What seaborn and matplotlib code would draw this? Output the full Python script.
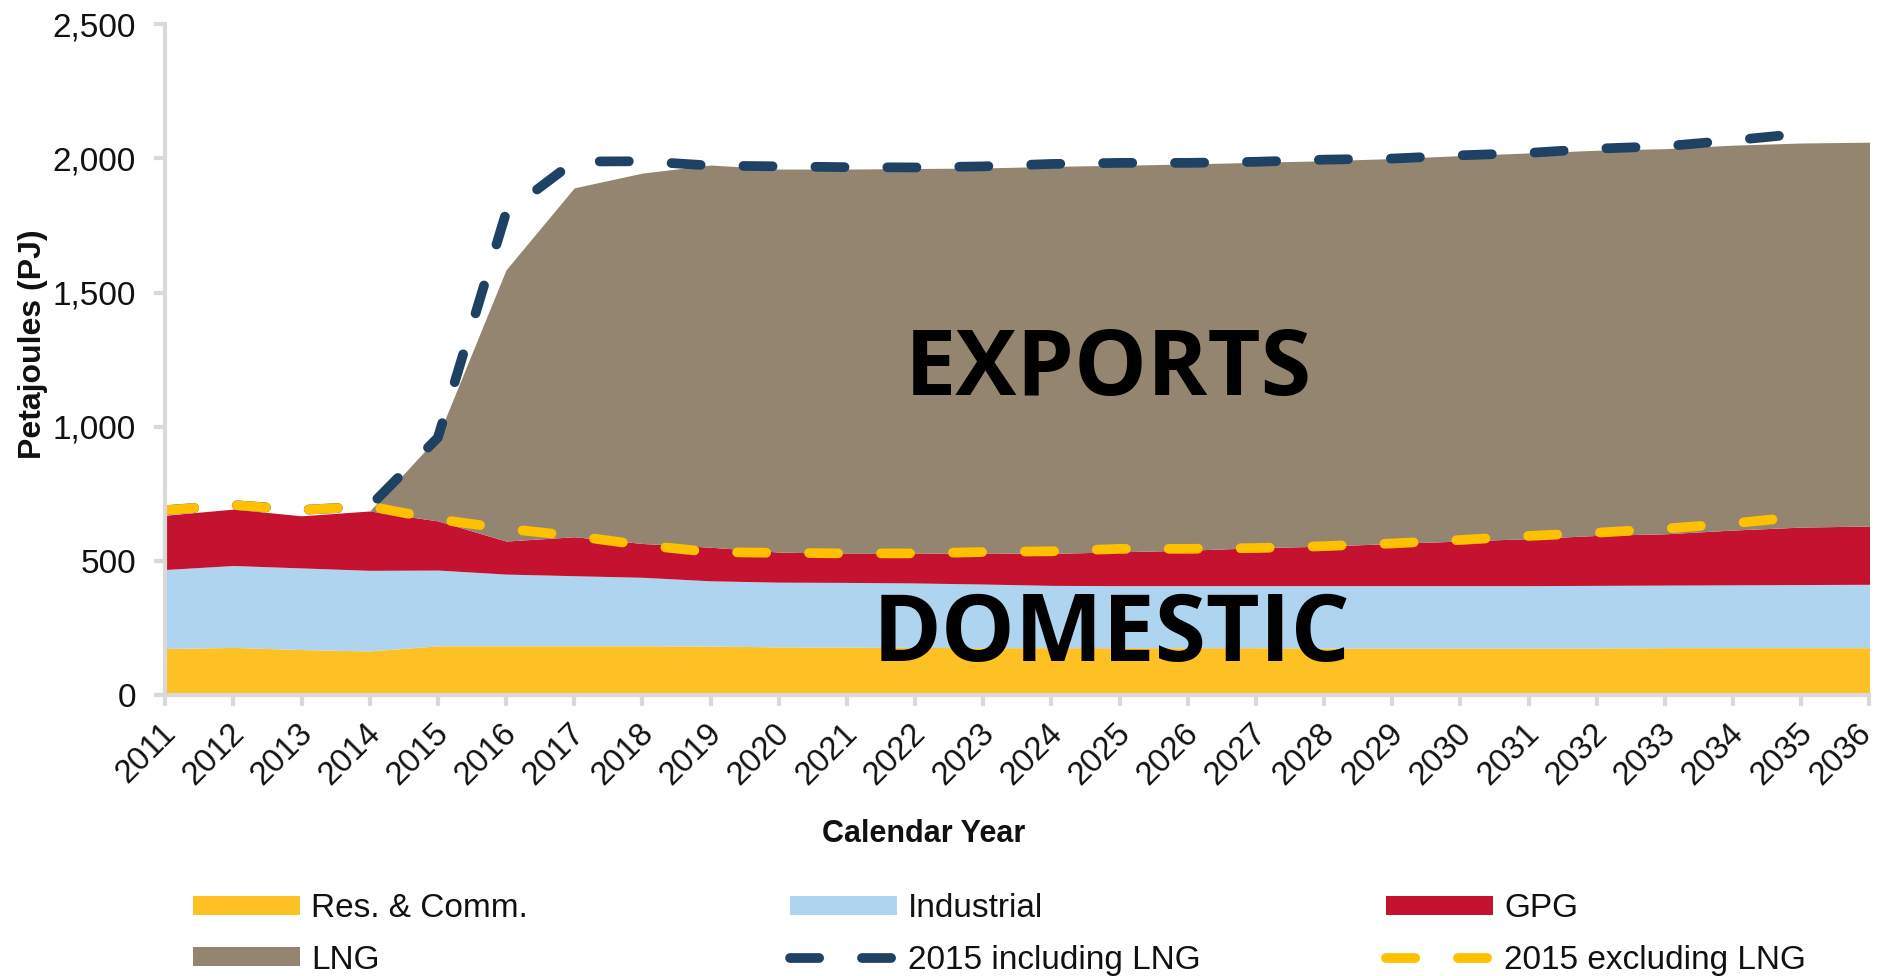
import numpy as np
import pandas as pd
import matplotlib
matplotlib.use("Agg")
import matplotlib.pyplot as plt
import matplotlib.transforms as mtransforms
import seaborn as sns
from matplotlib.patches import Patch
from matplotlib.lines import Line2D

# ---------------- data ----------------
years = list(range(2011, 2037))
res_comm = [175, 179, 171, 166, 185, 185, 185, 185, 184, 181, 180, 179, 178,
            178, 178, 178, 178, 177, 177, 177, 177, 177, 178, 178, 178, 178]
industrial = [294, 305, 304, 300, 282, 267, 261, 255, 243, 241, 241, 240, 237,
              232, 231, 231, 231, 232, 232, 232, 232, 233, 233, 234, 235, 236]
gpg = [202, 210, 194, 221, 183, 123, 145, 126, 125, 112, 108, 110, 116,
       119, 126, 132, 141, 147, 157, 166, 175, 186, 191, 204, 214, 217]
lng = [0, 0, 0, 0, 313, 1010, 1299, 1379, 1423, 1426, 1431, 1433, 1433,
       1441, 1439, 1438, 1435, 1435, 1433, 1435, 1436, 1434, 1434, 1433, 1430, 1429]
incl_lng_2015 = [690, 709, 691, 704, 960, 1797, 1988, 1989, 1973, 1970, 1967, 1966, 1970,
                 1979, 1983, 1983, 1987, 1995, 1999, 2011, 2020, 2036, 2045, 2067, 2092, np.nan]
excl_lng_2015 = [690, 709, 691, 704, 656, 621, 594, 560, 534, 531, 529, 529, 534,
                 537, 546, 546, 549, 556, 566, 579, 594, 606, 621, 641, 666, np.nan]
y_ticks = [0, 500, 1000, 1500, 2000, 2500]
area_labels = ["Res. & Comm.", "Industrial", "GPG", "LNG"]
line_labels = ["2015 including LNG", "2015 excluding LNG"]

# ---------------- style ----------------
sns.set_theme(style="white")
plt.rcParams["font.family"] = ["Liberation Sans", "DejaVu Sans"]

c_res = "#FEC124"
c_ind = "#AED4F0"
c_gpg = "#C41230"
c_lng = "#948570"
c_navy = "#1E4164"
c_gold = "#FFC000"
c_axis = "#D9D9D9"

fig = plt.figure(figsize=(18.77, 9.76), dpi=100)
ax = fig.add_axes([0.088, 0.2874, 0.908, 0.688])

ax.stackplot(years, res_comm, industrial, gpg, lng,
             colors=[c_res, c_ind, c_gpg, c_lng], linewidth=0, zorder=1)

df = pd.DataFrame({"year": years, "incl": incl_lng_2015, "excl": excl_lng_2015})
lw = 7
dash = (3.0, 4.4)
sns.lineplot(data=df, x="year", y="incl", ax=ax, color=c_navy, linewidth=lw,
             zorder=3, legend=False)
ax.lines[-1].set_dashes(dash)
ax.lines[-1].set_dash_capstyle("round")
sns.lineplot(data=df, x="year", y="excl", ax=ax, color=c_gold, linewidth=lw,
             zorder=4, legend=False)
ax.lines[-1].set_dashes(dash)
ax.lines[-1].set_dash_capstyle("round")

ax.set_xlim(2011, 2036)
ax.set_ylim(0, 2500)

for s in ["top", "right"]:
    ax.spines[s].set_visible(False)
for s in ["left", "bottom"]:
    ax.spines[s].set_color(c_axis)
    ax.spines[s].set_linewidth(3)
    ax.spines[s].set_zorder(5)
ax.tick_params(axis="both", which="major", length=8, width=3, color=c_axis,
               direction="out", left=True, bottom=True)
ax.tick_params(axis="x", pad=8)
ax.tick_params(axis="y", pad=13)
ax.grid(False)

ax.set_xticks(years)
ax.set_xticklabels([str(y) for y in years], rotation=45, ha="right",
                   rotation_mode="anchor", fontsize=23.5, color="#111111")
ax.set_yticks(y_ticks)
ax.set_yticklabels([f"{v:,}" for v in y_ticks], fontsize=24, color="#111111")

# nudge the year labels slightly left so the last one stays inside the figure
xlabs = ax.get_xticklabels()
for i, lab in enumerate(xlabs):
    dx = -14 if i == len(xlabs) - 1 else -5
    shift = mtransforms.ScaledTranslation(dx / 100, 0, fig.dpi_scale_trans)
    lab.set_transform(lab.get_transform() + shift)

ax.set_ylabel("Petajoules (PJ)", fontsize=23, fontweight="bold", color="#111111")
ax.yaxis.set_label_coords(-0.069, 0.523)
ax.set_xlabel("Calendar Year", fontsize=22, fontweight="bold", color="#111111")
ax.xaxis.set_label_coords(0.445, -0.184)

ax.text(0.5535, 0.4836, "EXPORTS", transform=ax.transAxes, ha="center", va="center",
        fontsize=66, fontweight="bold", family=["Open Sans", "DejaVu Sans"], color="black", zorder=6)
ax.text(0.5555, 0.088, "DOMESTIC", transform=ax.transAxes, ha="center", va="center",
        fontsize=67, fontweight="bold", family=["Open Sans", "DejaVu Sans"], color="black", zorder=6)

# ---------------- legend (three columns) ----------------
h_res = Patch(facecolor=c_res, edgecolor="none")
h_ind = Patch(facecolor=c_ind, edgecolor="none")
h_gpg = Patch(facecolor=c_gpg, edgecolor="none")
h_lng = Patch(facecolor=c_lng, edgecolor="none")
h_incl = Line2D([], [], color=c_navy, linewidth=lw, dashes=dash, dash_capstyle="round")
h_excl = Line2D([], [], color=c_gold, linewidth=lw, dashes=dash, dash_capstyle="round")

cols = [([h_res, h_lng], [area_labels[0], area_labels[3]], 193),
        ([h_ind, h_incl], [area_labels[1], line_labels[0]], 790),
        ([h_gpg, h_excl], [area_labels[2], line_labels[1]], 1386)]
W, H = 1877, 976
for handles, labels, xpx in cols:
    fig.legend(handles, labels, loc="upper left", bbox_to_anchor=(xpx / W, 1 - 893 / H),
               frameon=False, fontsize=24, handlelength=3.2, handleheight=0.5,
               handletextpad=0.35, labelspacing=0.62, borderpad=0, borderaxespad=0,
               labelcolor="#111111")

fig.savefig("out.png", dpi=100)
